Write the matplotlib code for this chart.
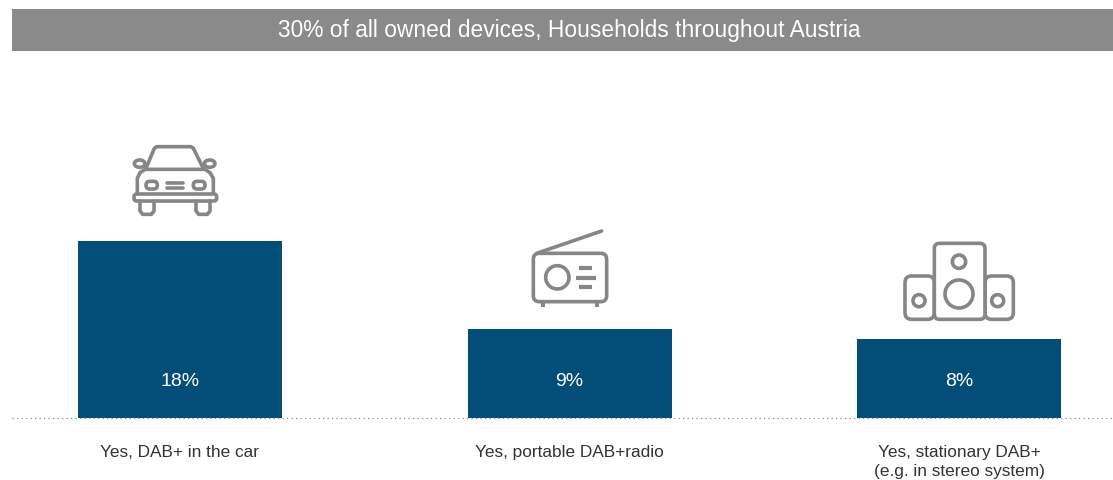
import matplotlib
matplotlib.use("Agg")
import matplotlib.pyplot as plt
from matplotlib.patches import Rectangle, FancyBboxPatch, Circle, Ellipse

categories = ["Yes, DAB+ in the car", "Yes, portable DAB+radio", "Yes, stationary DAB+\n(e.g. in stereo system)"]
shares = [18, 9, 8]
share_labels = ["18%", "9%", "8%"]
title = "30% of all owned devices, Households throughout Austria"

W, H = 1113, 481
BAR = "#034e78"
GREY = "#868686"
plt.rcParams["font.family"] = "Liberation Sans"

fig = plt.figure(figsize=(W / 100, H / 100), dpi=100)

# Bar axes: baseline sits at y=418.5 px, one percent is 9.8 px tall
base_px, top_px = 418.5, 60
ax = fig.add_axes([12 / W, 1 - base_px / H, (W - 12) / W, (base_px - top_px) / H])
step = 389.5
ax.set_xlim((12 - 180) / step, (W - 180) / step)
ax.set_ylim(0, (base_px - top_px) / 9.8)
ax.axis("off")
xs = list(range(len(categories)))
ax.bar(xs, shares, width=204 / step, color=BAR, linewidth=0, zorder=2)
ax.axhline(0, color="#8c8c8c", lw=0.9, ls=(0, (1, 2.6)), zorder=3, clip_on=False)
for x, lab in zip(xs, share_labels):
    ax.annotate(lab, (x, 0), xytext=(0, 37 * 0.72), textcoords="offset points",
                ha="center", va="center", color="white", fontsize=14)
for x, cat in zip(xs, categories):
    ax.annotate(cat, (x, 0), xytext=(0, -27 * 0.72), textcoords="offset points",
                ha="center", va="top", color="#333333", fontsize=12.4,
                linespacing=1.27, annotation_clip=False)

# Overlay in pixel coordinates for the header band and pictograms
ov = fig.add_axes([0, 0, 1, 1], zorder=5)
ov.set_xlim(0, W)
ov.set_ylim(H, 0)
ov.axis("off")
ov.patch.set_alpha(0)
ov.add_patch(Rectangle((12, 10), W - 12, 42, color="#8a8a8a", lw=0))
ov.text(569.5, 31, title, color="white", ha="center", va="center", fontsize=16.4)

LW = 2.6


def line(xy, x0, y0, lw=LW, cap="round"):
    ov.plot([x0 + p[0] / 3 for p in xy], [y0 + p[1] / 3 for p in xy], color=GREY, lw=lw,
            solid_capstyle=cap, solid_joinstyle="round")


def rrect(x1, y1, x2, y2, x0, y0, r=12, fc="none"):
    ov.add_patch(FancyBboxPatch((x0 + x1 / 3 + r / 3, y0 + y1 / 3 + r / 3),
                                (x2 - x1 - 2 * r) / 3, (y2 - y1 - 2 * r) / 3,
                                boxstyle=f"round,pad={r / 3},rounding_size={r / 3}",
                                fc=fc, ec=GREY, lw=LW))


def circ(cx, cy, r, x0, y0):
    ov.add_patch(Circle((x0 + cx / 3, y0 + cy / 3), r / 3, fc="none", ec=GREY, lw=LW))


# Car
cx0, cy0 = 110, 131
line([(108, 115), (133, 55), (140, 50), (243, 50), (250, 55), (280, 115)], cx0, cy0)
line([(82, 190), (82, 145), (90, 128), (105, 118), (285, 118), (300, 128), (310, 145), (310, 190)], cx0, cy0)
rrect(72, 192, 320, 213, cx0, cy0, r=8)
for a, b in [(90, 132), (258, 300)]:
    line([(a, 213), (a, 243), (a + 8, 253), (b - 8, 253), (b, 243), (b, 213)], cx0, cy0)
for a, b in [(108, 142), (250, 285)]:
    rrect(a, 154, b, 177, cx0, cy0, r=11)
line([(172, 158), (220, 158)], cx0, cy0)
line([(172, 175), (220, 175)], cx0, cy0)
for a, b in [(73, 105), (283, 315)]:
    ov.add_patch(Ellipse((cx0 + (a + b) / 6, cy0 + 101 / 3), (b - a) / 3, 22 / 3, fc="none", ec=GREY, lw=LW))

# Radio
rx0, ry0 = 510, 221
line([(80, 100), (275, 33)], rx0, ry0)
rrect(70, 100, 290, 245, rx0, ry0, r=18)
circ(142, 172, 35, rx0, ry0)
for a, b, y in [(207, 246, 143), (198, 258, 173), (207, 246, 200)]:
    line([(a, y), (b, y)], rx0, ry0, lw=3.0, cap="butt")
for a in (99, 261):
    line([(a, 245), (a, 261)], rx0, ry0, lw=3.0, cap="butt")

# Loudspeakers
sx0, sy0 = 890, 231
rrect(45, 138, 133, 268, sx0, sy0, r=20)
rrect(285, 138, 370, 268, sx0, sy0, r=20)
rrect(133, 40, 285, 268, sx0, sy0, r=16, fc="white")
circ(207, 95, 20, sx0, sy0)
circ(207, 192, 42, sx0, sy0)
circ(87, 212, 18, sx0, sy0)
circ(323, 212, 18, sx0, sy0)

fig.savefig("out.png", dpi=100)
